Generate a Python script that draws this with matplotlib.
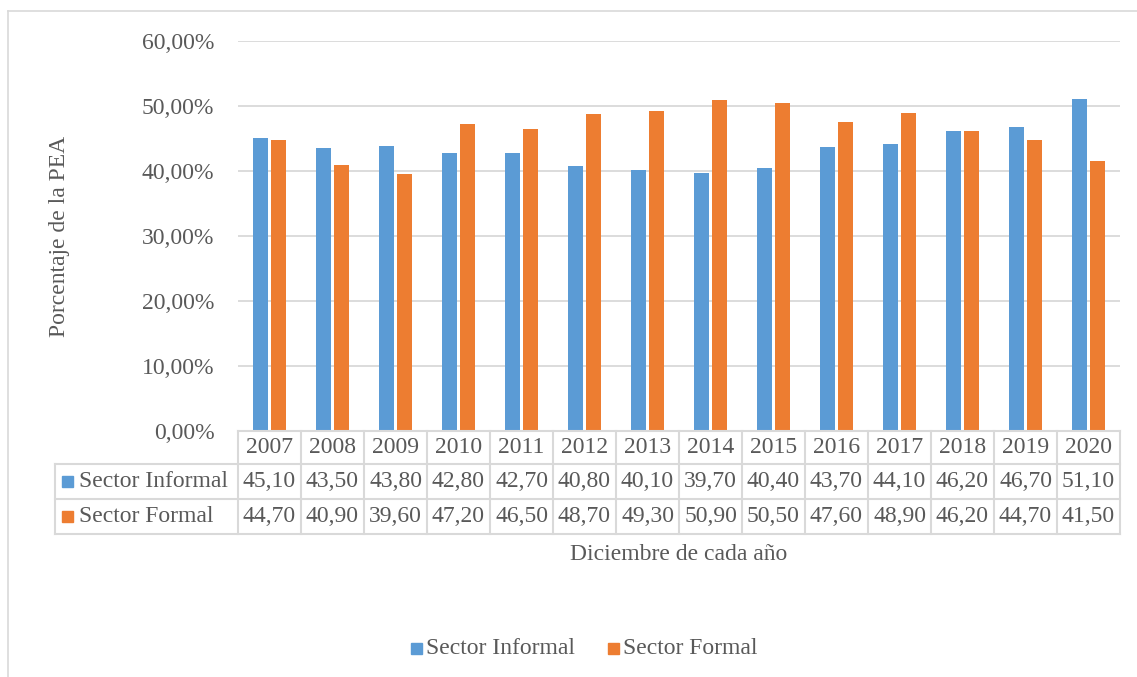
import numpy as np
import matplotlib
matplotlib.use("Agg")
import matplotlib.pyplot as plt
from matplotlib.transforms import blended_transform_factory
from matplotlib.patches import Rectangle
from matplotlib.lines import Line2D

years = ["2007", "2008", "2009", "2010", "2011", "2012", "2013", "2014",
         "2015", "2016", "2017", "2018", "2019", "2020"]
informal = [45.10, 43.50, 43.80, 42.80, 42.70, 40.80, 40.10, 39.70,
            40.40, 43.70, 44.10, 46.20, 46.70, 51.10]
formal = [44.70, 40.90, 39.60, 47.20, 46.50, 48.70, 49.30, 50.90,
          50.50, 47.60, 48.90, 46.20, 44.70, 41.50]
series_names = ["Sector Informal", "Sector Formal"]
yticks = [0, 10, 20, 30, 40, 50, 60]

BLUE = "#5b9bd5"
ORANGE = "#ed7d31"
TXT = "#595959"
GRID = "#d9d9d9"
FONT = "Liberation Serif"
FS = 17

W, H = 1137, 677
fig = plt.figure(figsize=(W / 100, H / 100), dpi=100)
plt.rcParams['font.family'] = [FONT, 'DejaVu Serif']


def fx(x):
    return x / W


def fy(y):
    return 1 - y / H


# chart border (left and top visible)
fig.add_artist(Line2D([fx(8), fx(8)], [fy(11), 0], color=GRID, lw=1.2, transform=fig.transFigure))
fig.add_artist(Line2D([fx(8), 1], [fy(11), fy(11)], color=GRID, lw=1.2, transform=fig.transFigure))

ax_l, ax_r, ax_t, ax_b = 238, 1120, 41, 431
ax = fig.add_axes([fx(ax_l), fy(ax_b), fx(ax_r - ax_l), (ax_b - ax_t) / H])

n = len(years)
x = np.arange(n)
bw = 0.235
ax.bar(x - 0.145, np.array(informal) / 100, bw, color=BLUE, zorder=3)
ax.bar(x + 0.145, np.array(formal) / 100, bw, color=ORANGE, zorder=3)

ax.set_xlim(-0.5, n - 0.5)
ax.set_ylim(0, 0.6)
ax.set_yticks([t / 100 for t in yticks])
ax.set_yticklabels([f"{t:.2f}".replace(".", ",") + "%" for t in yticks],
                   fontsize=FS, color=TXT, family=FONT)
ax.tick_params(axis="y", length=0, pad=17)
ax.set_xticks([])
ax.grid(axis="y", color=GRID, lw=1.3, zorder=0)
for s in ax.spines.values():
    s.set_visible(False)

# table
tr = blended_transform_factory(ax.transData, fig.transFigure)
rows_y = [431, 464, 499, 534]
lab_left = 55
lw = 1.5
# horizontal lines
fig.add_artist(Line2D([fx(ax_l), fx(ax_r)], [fy(rows_y[0])] * 2, color=GRID, lw=lw, transform=fig.transFigure))
for yy in rows_y[1:]:
    fig.add_artist(Line2D([fx(lab_left), fx(ax_r)], [fy(yy)] * 2, color=GRID, lw=lw, transform=fig.transFigure))
# vertical lines
for i in range(n + 1):
    fig.add_artist(Line2D([i - 0.5, i - 0.5], [fy(rows_y[0]), fy(rows_y[3])], color=GRID, lw=lw, transform=tr))
fig.add_artist(Line2D([fx(lab_left), fx(lab_left)], [fy(rows_y[1]), fy(rows_y[3])], color=GRID, lw=lw, transform=fig.transFigure))

for i, yr in enumerate(years):
    fig.text(i, fy((rows_y[0] + rows_y[1]) / 2), yr, transform=tr, ha="center", va="center",
             fontsize=FS, color=TXT, family=FONT)
    fig.text(i, fy((rows_y[1] + rows_y[2]) / 2), f"{informal[i]:.2f}".replace(".", ","), transform=tr,
             ha="center", va="center", fontsize=FS, color=TXT, family=FONT)
    fig.text(i, fy((rows_y[2] + rows_y[3]) / 2), f"{formal[i]:.2f}".replace(".", ","), transform=tr,
             ha="center", va="center", fontsize=FS, color=TXT, family=FONT)

for k, (name, col) in enumerate(zip(series_names, [BLUE, ORANGE])):
    yc = (rows_y[k + 1] + rows_y[k + 2]) / 2
    fig.add_artist(Rectangle((fx(62), fy(yc + 5.5)), fx(11), 11 / H, color=col, transform=fig.transFigure))
    fig.text(fx(79), fy(yc), name, ha="left", va="center", fontsize=FS, color=TXT, family=FONT)

# axis titles
fig.text(fx(59), fy(236), "Porcentaje de la PEA", rotation=90, ha="center", va="center",
         fontsize=FS, color=TXT, family=FONT)
fig.text(fx(679), fy(555), "Diciembre de cada año", ha="center", va="center",
         fontsize=FS, color=TXT, family=FONT)

# legend
leg_y = 648
fig.add_artist(Rectangle((fx(411), fy(leg_y + 5.5)), fx(11), 11 / H, color=BLUE, transform=fig.transFigure))
fig.text(fx(426), fy(leg_y), series_names[0], ha="left", va="center", fontsize=FS, color=TXT, family=FONT)
fig.add_artist(Rectangle((fx(608), fy(leg_y + 5.5)), fx(11), 11 / H, color=ORANGE, transform=fig.transFigure))
fig.text(fx(623), fy(leg_y), series_names[1], ha="left", va="center", fontsize=FS, color=TXT, family=FONT)

fig.savefig("out.png", dpi=100)
